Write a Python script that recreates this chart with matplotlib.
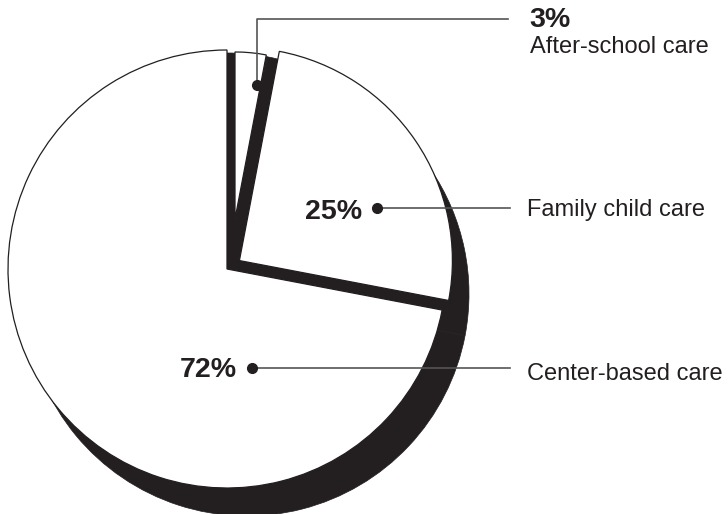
import numpy as np
import matplotlib
matplotlib.use("Agg")
import matplotlib.pyplot as plt
from matplotlib.patches import Wedge

plt.rcParams['font.family'] = ['Liberation Sans', 'DejaVu Sans']

# data : share of children by type of care (clockwise from 12 o'clock)
categories = ["After-school care", "Family child care", "Center-based care"]
shares = [3, 25, 72]
pct_labels = ["3%", "25%", "72%"]

INK = "#231f20"
W, H = 728, 514

fig = plt.figure(figsize=(W / 100, H / 100), dpi=100)
ax = fig.add_axes([0, 0, 1, 1])
ax.set_xlim(0, W)
ax.set_ylim(0, H)
ax.axis("off")

# slice angles, clockwise from the top
fr = np.array(shares) / sum(shares) * 360.0
hi = 90 - np.concatenate([[0], np.cumsum(fr)[:-1]])
lo = hi - fr
mid = np.radians((hi + lo) / 2)

O = np.array([227.0, 245.0])      # main vertex
R = 219
shadow_c = O + np.array([20, -25])
shadow_r = 222

# per slice vertex + radius (the small slice is pulled up, the 25% exploded)
centers = [O + np.array([8, 50]),
           O + 15 * np.array([np.cos(mid[1]), np.sin(mid[1])]),
           O]
radii = [167, 213, R]

# black shadow / depth
for i in range(len(shares)):
    ax.add_patch(Wedge(shadow_c, shadow_r, lo[i], hi[i], facecolor=INK, edgecolor=INK, lw=0.5))
for i in range(len(shares)):
    ax.add_patch(Wedge(O, 216, lo[i], hi[i], facecolor=INK, edgecolor=INK, lw=0.5))

# white tops
for i in range(len(shares)):
    ax.add_patch(Wedge(centers[i], radii[i], lo[i], hi[i], facecolor="white",
                       edgecolor=INK, lw=0.9, joinstyle="miter"))

# leaders + labels
LINE = "#555555"
dots = [(257, 429), (377, 306), (252, 146)]
line_end = 510

# 3%
d = dots[0]
ax.plot([d[0], d[0], line_end - 2], [d[1], 495, 495], color=LINE, lw=1.2)
ax.plot(*d, "o", color=INK, ms=7)
ax.text(529, 487, pct_labels[0], fontsize=20.5, fontweight="bold", color=INK, va="baseline")
ax.text(530, 461, categories[0], fontsize=17, color=INK, va="baseline")

# 25%
d = dots[1]
ax.plot([d[0], line_end], [d[1], d[1]], color=LINE, lw=1.2)
ax.plot(*d, "o", color=INK, ms=7)
ax.text(362, 295, pct_labels[1], fontsize=20.5, fontweight="bold", color=INK, va="baseline", ha="right")
ax.text(527, 298, categories[1], fontsize=17, color=INK, va="baseline")

# 72%
d = dots[2]
ax.plot([d[0], line_end], [d[1], d[1]], color=LINE, lw=1.2)
ax.plot(*d, "o", color=INK, ms=7)
ax.text(237, 137, pct_labels[2], fontsize=20.5, fontweight="bold", color=INK, va="baseline", ha="right")
ax.text(527, 134, categories[2], fontsize=17, color=INK, va="baseline")

fig.savefig("out.png", dpi=100)
